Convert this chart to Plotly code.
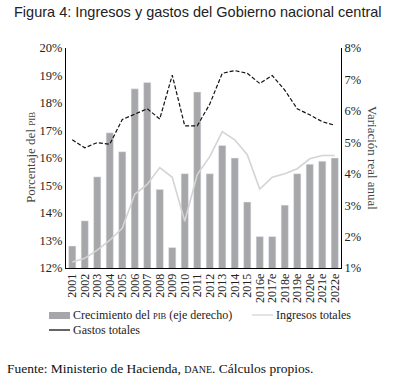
import plotly.graph_objects as go

years = ["2001", "2002", "2003", "2004", "2005", "2006", "2007", "2008", "2009", "2010",
         "2011", "2012", "2013", "2014", "2015", "2016e", "2017e", "2018e", "2019e",
         "2020e", "2021e", "2022e"]
pib_growth = [1.7, 2.5, 3.9, 5.3, 4.7, 6.7, 6.9, 3.5, 1.65, 4.0,
              6.6, 4.0, 4.9, 4.5, 3.1, 2.0, 2.0, 3.0, 4.0, 4.3, 4.4, 4.5]
ingresos = [12.22, 12.35, 12.65, 13.01, 13.44, 14.68, 15.04, 15.65, 15.30, 13.70,
            15.40, 16.05, 16.96, 16.66, 16.12, 14.87, 15.30, 15.43, 15.61, 15.97, 16.09, 16.09]
gastos = [16.66, 16.37, 16.56, 16.50, 17.40, 17.61, 17.79, 17.42, 19.01, 17.17,
          17.17, 17.96, 19.08, 19.18, 19.08, 18.71, 19.00, 18.47, 17.79, 17.57, 17.32, 17.19]
left_ticks = [12, 13, 14, 15, 16, 17, 18, 19, 20]
right_ticks = [1, 2, 3, 4, 5, 6, 7, 8]

serif = "Liberation Serif"
W, H = 402, 381
ML, MR, MT, MB = 66, 61, 48, 113
PW, PH = W - ML - MR, H - MT - MB


def px(x):
    return (x - ML) / PW


def py(y):
    return (H - MB - y) / PH


fig = go.Figure()
fig.add_trace(go.Bar(x=years, y=pib_growth, yaxis="y", marker_color="#a7a7a9",
                     name="Crecimiento del PIB (eje derecho)", showlegend=False))
fig.add_trace(go.Scatter(x=years, y=ingresos, yaxis="y2", mode="lines",
                         line=dict(color="#d4d4d4", width=1.6), name="Ingresos totales",
                         showlegend=False))
fig.add_trace(go.Scatter(x=years, y=gastos, yaxis="y2", mode="lines",
                         line=dict(color="#111111", width=1.2, dash="4px,2px"),
                         showlegend=False, name="Gastos totales"))

shapes = [
    dict(type="rect", xref="paper", yref="paper", x0=px(49), x1=px(70), y0=py(319), y1=py(312),
         fillcolor="#a7a7a9", line=dict(width=0)),
    dict(type="line", xref="paper", yref="paper", x0=px(252), x1=px(273), y0=py(315), y1=py(315),
         line=dict(color="#c8c8c8", width=1)),
    dict(type="line", xref="paper", yref="paper", x0=px(49), x1=px(70), y0=py(330), y1=py(330),
         line=dict(color="#111111", width=1.3)),
]

leg_font = dict(size=12, family=serif, color="#222")
annotations = [
    dict(text="Crecimiento del <span style='font-size:8.5px'>PIB</span> (eje derecho)",
         xref="paper", yref="paper", x=px(71), y=py(315), xanchor="left", yanchor="middle",
         showarrow=False, font=leg_font),
    dict(text="Ingresos totales", xref="paper", yref="paper", x=px(274), y=py(315),
         xanchor="left", yanchor="middle", showarrow=False, font=leg_font),
    dict(text="Gastos totales", xref="paper", yref="paper", x=px(71), y=py(330),
         xanchor="left", yanchor="middle", showarrow=False, font=leg_font),
    dict(text="Variación real anual", textangle=90, xref="paper", yref="paper",
         x=px(373), y=0.5, xanchor="center", showarrow=False,
         font=dict(size=13, family=serif, color="#444")),
    dict(text="Porcentaje del <span style='font-size:9px'>PIB</span>", textangle=-90,
         xref="paper", yref="paper", x=px(30), y=0.5, xanchor="center", showarrow=False,
         font=dict(size=13, family=serif, color="#444")),
    dict(text="Fuente: Ministerio de Hacienda, <span style='font-size:10px'>DANE</span>. Cálculos propios.",
         xref="paper", yref="paper", x=px(5), xanchor="left", y=py(368), yanchor="middle",
         showarrow=False, font=dict(size=13.5, family=serif, color="#111")),
    dict(text="Figura 4: Ingresos y gastos del Gobierno nacional central",
         xref="paper", yref="paper", x=px(12), xanchor="left", y=py(12), yanchor="middle",
         showarrow=False, font=dict(family="Liberation Sans", size=14.5, color="#222")),
]

fig.update_layout(
    width=W, height=H,
    margin=dict(l=ML, r=MR, t=MT, b=MB, autoexpand=False),
    paper_bgcolor="white", plot_bgcolor="white",
    font=dict(family=serif, size=12, color="#222"),
    bargap=0.42,
    showlegend=False,
    xaxis=dict(type="category", tickmode="array", tickvals=years, ticktext=years,
               tickangle=-90, tickfont=dict(size=12, family=serif),
               showline=True, linecolor="black", linewidth=1, ticks="", showgrid=False,
               automargin=False),
    yaxis=dict(side="right", range=[1, 8], tickvals=right_ticks,
               ticktext=[f"{v}%" for v in right_ticks], showgrid=False, zeroline=False,
               showline=True, linecolor="black", linewidth=1, ticks="",
               tickfont=dict(size=12.5, family=serif), automargin=False),
    yaxis2=dict(side="left", overlaying="y", range=[12, 20], tickvals=left_ticks,
                ticktext=[f"{v}%" for v in left_ticks], showgrid=False, zeroline=False,
                showline=True, linecolor="black", linewidth=1, ticks="",
                tickfont=dict(size=12.5, family=serif), automargin=False),
    shapes=shapes,
    annotations=annotations,
)
fig.write_html("out.html", config={"displayModeBar": False},
               post_script="document.body.style.margin='0';document.body.style.overflow='hidden';")
